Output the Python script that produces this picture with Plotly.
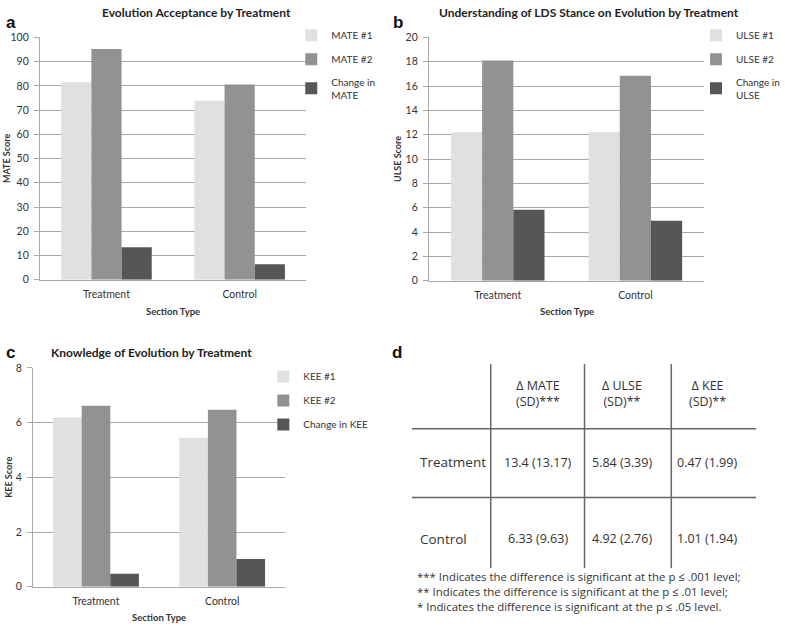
import plotly.graph_objects as go

W, H = 785, 630
def X(px): return px / W
def Y(py): return 1 - py / H

# ---------------- data ----------------
sections = ["Treatment", "Control"]

mate_names = ["MATE #1", "MATE #2", "Change in<br>MATE"]
mate_1 = [81.5, 73.9]
mate_2 = [95.2, 80.6]
mate_change = [13.4, 6.33]

ulse_names = ["ULSE #1", "ULSE #2", "Change in<br>ULSE"]
ulse_1 = [12.2, 12.2]
ulse_2 = [18.1, 16.85]
ulse_change = [5.84, 4.92]

kee_names = ["KEE #1", "KEE #2", "Change in KEE"]
kee_1 = [6.2, 5.45]
kee_2 = [6.62, 6.47]
kee_change = [0.47, 1.01]

table_cols = ["Δ MATE<br>(SD)***", "Δ ULSE<br>(SD)**", "Δ KEE<br>(SD)**"]
table_rows = ["Treatment", "Control"]
table_cells = [["13.4 (13.17)", "5.84 (3.39)", "0.47 (1.99)"],
               ["6.33 (9.63)", "4.92 (2.76)", "1.01 (1.94)"]]
footnotes = ["*** Indicates the difference is significant at the p ≤ .001 level;",
             "** Indicates the difference is significant at the p ≤ .01 level;",
             "* Indicates the difference is significant at the p ≤ .05 level."]

bar_colors = ["#e0e0e0", "#929292", "#565656"]
FONT = "Lato"
TXT = "#333333"
GRID = "#a8a8a8"

fig = go.Figure()

panels = [
    ("x", "y", "legend", mate_names, [mate_1, mate_2, mate_change]),
    ("x2", "y2", "legend2", ulse_names, [ulse_1, ulse_2, ulse_change]),
    ("x3", "y3", "legend3", kee_names, [kee_1, kee_2, kee_change]),
]
for xa, ya, lg, names, series in panels:
    for i, (nm, vals) in enumerate(zip(names, series)):
        fig.add_trace(go.Bar(
            x=sections, y=vals, name=nm, xaxis=xa, yaxis=ya, legend=lg,
            legendgroup=f"{lg}_{i}",
            marker=dict(color=bar_colors[i], line=dict(width=0)),
            hoverinfo="skip"))

def yaxis_style(rng, dtick):
    return dict(range=rng, dtick=dtick, showgrid=True, gridcolor=GRID, gridwidth=1,
                showline=True, linecolor=GRID, linewidth=1, ticks="outside",
                ticklen=5, tickcolor=GRID, zeroline=False,
                tickfont=dict(family=FONT, size=10.5, color=TXT), ticklabelstandoff=3,
                fixedrange=True)

def xaxis_style():
    return dict(showline=True, linecolor=GRID, linewidth=1, ticks="", ticklen=0,
                tickfont=dict(family=FONT, size=10.5, color=TXT), ticklabelstandoff=5,
                fixedrange=True)

legend_common = dict(font=dict(family=FONT, size=10, color=TXT), bgcolor="rgba(0,0,0,0)",
                     xanchor="left", yanchor="top", itemwidth=30, tracegroupgap=5,
                     traceorder="grouped", itemclick=False, itemdoubleclick=False)

fig.update_layout(
    width=W, height=H, margin=dict(l=0, r=0, t=0, b=0),
    paper_bgcolor="white", plot_bgcolor="white",
    barmode="group", bargap=0.32, bargroupgap=0,
    xaxis=dict(domain=[X(40), X(307)], anchor="y", **xaxis_style()),
    yaxis=dict(domain=[Y(279), Y(32)], anchor="x", **yaxis_style([0, 100], 10)),
    xaxis2=dict(domain=[X(430), X(706)], anchor="y2", **xaxis_style()),
    yaxis2=dict(domain=[Y(280), Y(32)], anchor="x2", **yaxis_style([0, 20], 2)),
    xaxis3=dict(domain=[X(33), X(286)], anchor="y3", **xaxis_style()),
    yaxis3=dict(domain=[Y(592), Y(369)], anchor="x3", **yaxis_style([0, 8], 2)),
    legend=dict(x=X(292), y=Y(15), **legend_common),
    legend2=dict(x=X(698), y=Y(15), **legend_common),
    legend3=dict(x=X(264), y=Y(363), **legend_common),
    showlegend=True,
)

ann = []
def add_text(px, py, text, size=10, bold=False, xanchor="center", color=TXT,
             family=FONT, angle=0, align="center"):
    ann.append(dict(x=X(px), y=Y(py), xref="paper", yref="paper", text=(f"<b>{text}</b>" if bold else text),
                    showarrow=False, xanchor=xanchor, yanchor="middle", textangle=angle,
                    align=align, font=dict(family=family, size=size, color=color)))

# panel letters
for px, py, l in [(11, 17, "a"), (399, 17, "b"), (11, 353, "c"), (398, 353, "d")]:
    add_text(px, py, l, size=17, bold=True, family="Liberation Sans", color="#111111")

# titles
add_text(197, 7, "Evolution Acceptance by Treatment", size=12, bold=True, color="#222222")
add_text(591, 7, "Understanding of LDS Stance on Evolution by Treatment", size=12, bold=True, color="#222222")
add_text(152, 353, "Knowledge of Evolution by Treatment", size=12, bold=True, color="#222222")

# axis titles
add_text(6, 155, "MATE Score", size=9, bold=True, angle=-90)
add_text(398, 156, "ULSE Score", size=9, bold=True, angle=-90)
add_text(9, 480, "KEE Score", size=9, bold=True, angle=-90)
add_text(173, 311, "Section Type", size=9.5, bold=True)
add_text(568, 311, "Section Type", size=9.5, bold=True)
add_text(159, 623, "Section Type", size=9.5, bold=True)

# table
TFONT = "Open Sans"
TCOL = "#333333"
col_centers = [539, 624, 709]
for cx, t in zip(col_centers, table_cols):
    add_text(cx, 395, t, size=12.5, family=TFONT, color=TCOL)
row_y = [465, 543]
for ry, rl, vals in zip(row_y, table_rows, table_cells):
    add_text(419, ry, rl, size=13.5, family=TFONT, color=TCOL, xanchor="left")
    for cx, v in zip(col_centers, vals):
        add_text(cx, ry, v, size=12.5, family=TFONT, color=TCOL)
for i, f in enumerate(footnotes):
    add_text(416, 582 + 15 * i, f, size=11.4, family=TFONT, color=TCOL, xanchor="left")

shapes = []
LINE = dict(color="#666666", width=1.5)
for vx in [492, 586, 673]:
    shapes.append(dict(type="line", xref="paper", yref="paper", x0=X(vx), x1=X(vx),
                       y0=Y(365), y1=Y(573), line=LINE))
for hy in [431, 501]:
    shapes.append(dict(type="line", xref="paper", yref="paper", x0=X(413), x1=X(758),
                       y0=Y(hy), y1=Y(hy), line=LINE))

fig.update_layout(annotations=ann, shapes=shapes)
fig.write_html("out.html", config={"displayModeBar": False},
               post_script="document.body.style.margin='0';document.body.style.padding='0';")
